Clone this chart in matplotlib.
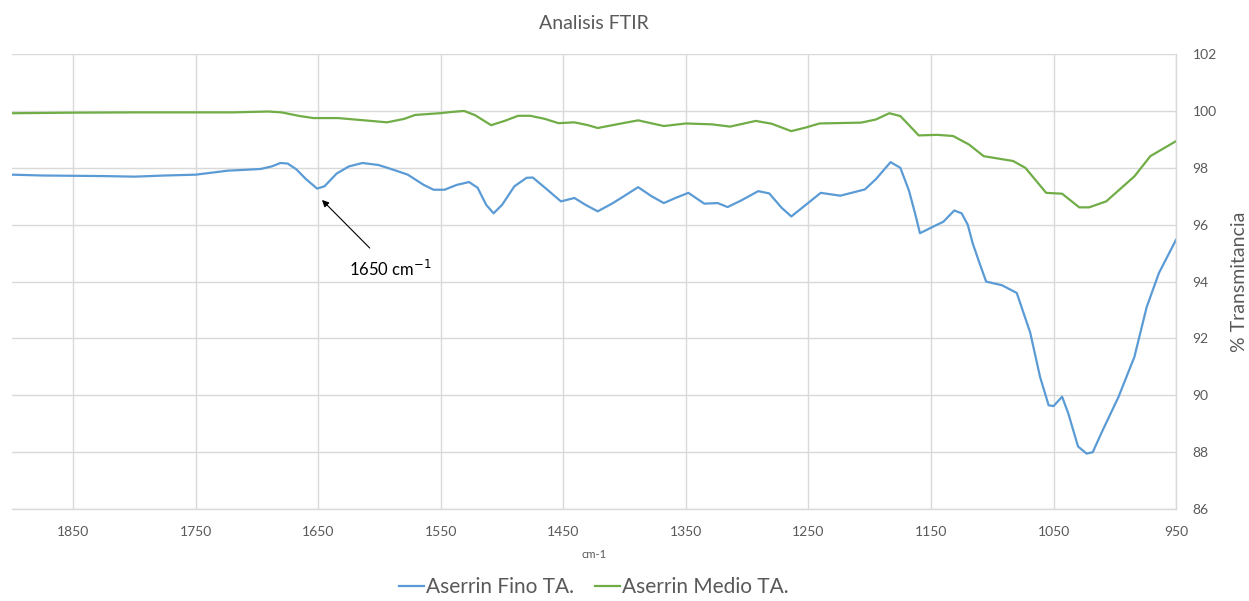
import numpy as np
import matplotlib
matplotlib.use("Agg")
import matplotlib.pyplot as plt

plt.rcParams['font.family'] = ['Lato', 'DejaVu Sans']

# wavenumber (cm-1) / transmittance
fino_x = [1900, 1875, 1850, 1825, 1800, 1775, 1750, 1735, 1724, 1710, 1697, 1688,
          1681, 1675, 1668, 1660, 1651, 1645, 1635, 1625, 1614, 1601, 1590, 1577,
          1564, 1556, 1547, 1537, 1527, 1520, 1513, 1507, 1500, 1490, 1480, 1475,
          1465, 1452, 1441, 1432, 1422, 1410, 1404, 1389, 1378, 1368, 1358, 1348,
          1335, 1324, 1316, 1305, 1291, 1282, 1272, 1264, 1255, 1240, 1224, 1204,
          1195, 1183, 1175, 1168, 1163, 1159, 1152, 1145, 1140, 1131, 1125, 1120,
          1116, 1110, 1105, 1092, 1080, 1069, 1061, 1054, 1050, 1043, 1038, 1030,
          1023, 1018, 1010, 997, 990, 984, 974, 964, 950]
fino_y = [97.76, 97.73, 97.72, 97.71, 97.69, 97.73, 97.76, 97.84, 97.90, 97.93, 97.96, 98.05,
          98.17, 98.15, 97.95, 97.60, 97.27, 97.35, 97.80, 98.05, 98.17, 98.10, 97.95, 97.76,
          97.40, 97.23, 97.23, 97.40, 97.50, 97.30, 96.70, 96.40, 96.70, 97.35, 97.65, 97.66,
          97.30, 96.82, 96.94, 96.70, 96.47, 96.75, 96.91, 97.32, 97.00, 96.76, 96.95, 97.12,
          96.74, 96.76, 96.62, 96.85, 97.18, 97.10, 96.60, 96.29, 96.60, 97.12, 97.02, 97.24,
          97.60, 98.20, 98.00, 97.20, 96.40, 95.70, 95.85, 96.00, 96.10, 96.50, 96.40, 96.00,
          95.35, 94.60, 94.00, 93.87, 93.60, 92.20, 90.65, 89.65, 89.62, 89.95, 89.37, 88.20,
          87.95, 88.00, 88.76, 89.94, 90.70, 91.35, 93.10, 94.30, 95.47]

medio_x = [1900, 1875, 1850, 1800, 1750, 1720, 1691, 1680, 1665, 1654, 1634, 1615,
           1594, 1580, 1571, 1551, 1540, 1531, 1522, 1509, 1498, 1487, 1477, 1465,
           1454, 1441, 1430, 1422, 1404, 1389, 1368, 1350, 1329, 1314, 1293, 1280,
           1264, 1252, 1241, 1207, 1195, 1184, 1175, 1160, 1145, 1132, 1119, 1107,
           1083, 1073, 1056, 1043, 1029, 1021, 1007, 984, 971, 950]
medio_y = [99.92, 99.93, 99.94, 99.95, 99.95, 99.95, 99.98, 99.95, 99.82, 99.75, 99.75, 99.68,
           99.60, 99.72, 99.86, 99.92, 99.97, 100.00, 99.85, 99.50, 99.65, 99.83, 99.83, 99.72,
           99.57, 99.60, 99.50, 99.40, 99.55, 99.67, 99.47, 99.56, 99.53, 99.45, 99.65, 99.55,
           99.29, 99.42, 99.56, 99.59, 99.70, 99.92, 99.82, 99.14, 99.16, 99.12, 98.82, 98.41,
           98.24, 98.00, 97.12, 97.09, 96.61, 96.61, 96.82, 97.70, 98.41, 98.94]

x_ticks = [1850, 1750, 1650, 1550, 1450, 1350, 1250, 1150, 1050, 950]
y_ticks = [86, 88, 90, 92, 94, 96, 98, 100, 102]

grey = '#595959'
gridc = '#d9d9d9'

fig = plt.figure(figsize=(12.49, 6.01), dpi=100)
ax = fig.add_axes([0.0096, 0.153, 0.932, 0.757])

ax.plot(fino_x, fino_y, color='#5b9bd5', lw=1.6, label='Aserrin Fino TA.')
ax.plot(medio_x, medio_y, color='#70ad47', lw=1.6, label='Aserrin Medio TA.')

ax.set_xlim(1900, 950)
ax.set_ylim(86, 102)
ax.set_xticks(x_ticks)
ax.set_yticks(y_ticks)
ax.yaxis.tick_right()
ax.yaxis.set_label_position('right')
ax.tick_params(length=0, colors=grey, labelsize=10)
ax.tick_params(axis='x', pad=12)
ax.tick_params(axis='y', pad=12)
ax.grid(True, color=gridc, lw=1)
ax.set_axisbelow(True)
for s in ['left', 'top']:
    ax.spines[s].set_visible(False)
for s in ['right', 'bottom']:
    ax.spines[s].set_color(gridc)
    ax.spines[s].set_linewidth(1)

ax.set_xlabel('cm-1', fontsize=8, color=grey, labelpad=8)
ax.set_ylabel('% Transmitancia', fontsize=14, color=grey, labelpad=10)
ax.set_title('Analisis FTIR', fontsize=14, color=grey, pad=18)

ax.annotate('1650 cm$^{-1}$', xy=(1647, 96.87), xytext=(1625, 94.45),
            fontsize=12, color='black', va='center', ha='left',
            arrowprops=dict(arrowstyle='-|>', color='black', lw=0.8,
                            shrinkA=8, shrinkB=0, mutation_scale=10))

ax.legend(loc='center', bbox_to_anchor=(0.5, -0.172), ncol=2, frameon=False,
          fontsize=15, handlelength=1.2, handletextpad=0.1, columnspacing=1.0,
          labelcolor=grey, borderaxespad=0, borderpad=0)

fig.savefig('out.png', dpi=100)
